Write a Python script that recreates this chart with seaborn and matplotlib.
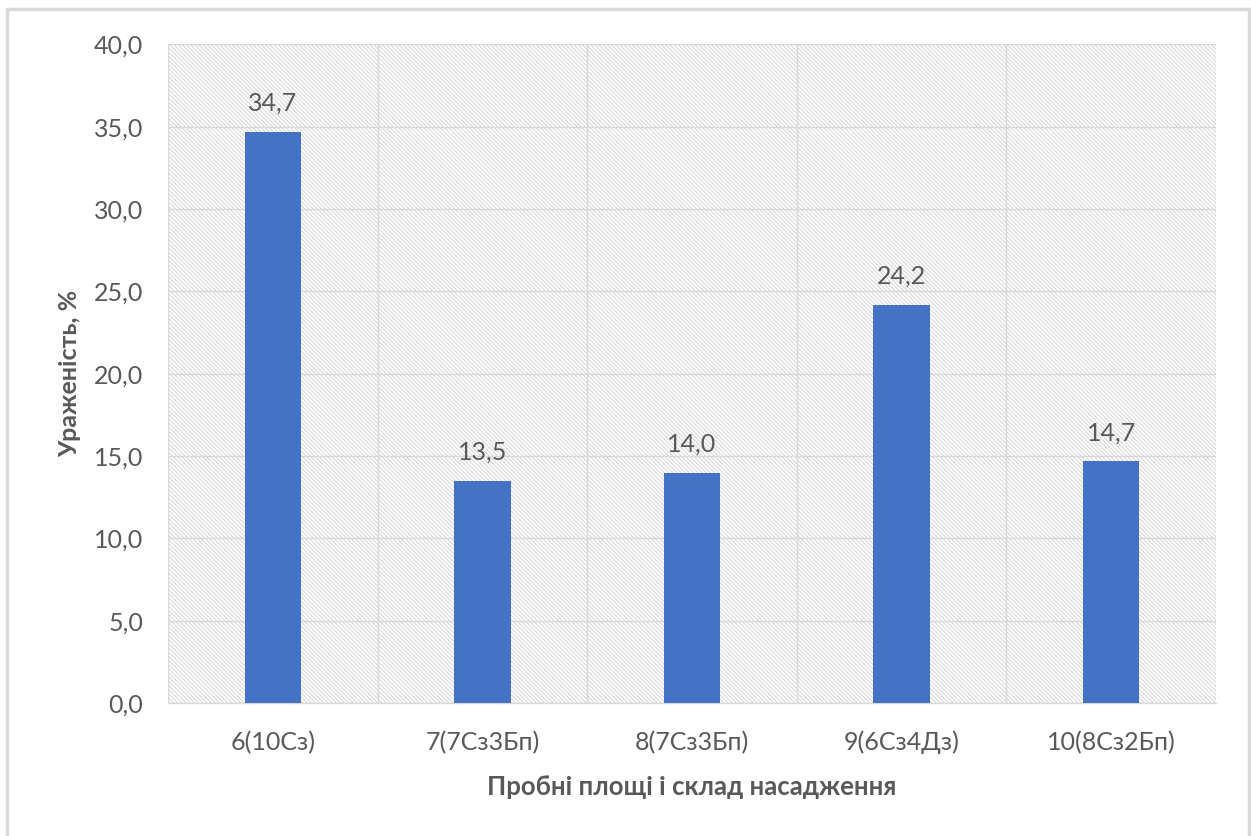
import matplotlib
matplotlib.use('Agg')
import matplotlib.pyplot as plt
import seaborn as sns
from matplotlib.ticker import FuncFormatter, FixedLocator
from matplotlib.patches import Rectangle

# дані
categories = ['6(10Сз)', '7(7Сз3Бп)', '8(7Сз3Бп)', '9(6Сз4Дз)', '10(8Сз2Бп)']
values = [34.7, 13.5, 14.0, 24.2, 14.7]
y_ticks = [0, 5, 10, 15, 20, 25, 30, 35, 40]

sns.set_style('white')
plt.rcParams['font.family'] = ['Lato', 'DejaVu Sans']
plt.rcParams['hatch.color'] = '#DCDCDC'
plt.rcParams['hatch.linewidth'] = 0.8

txt = '#595959'
grid_c = '#D9D9D9'

fig = plt.figure(figsize=(12.51, 8.36), dpi=100)
ax = fig.add_axes([0.1343, 0.159, 0.8377, 0.788])

# фон з штрихуванням
ax.patch.set_facecolor('white')
ax.patch.set_hatch('\\\\\\\\\\\\\\\\')
ax.patch.set_edgecolor(grid_c)

sns.barplot(x=categories, y=values, color='#4472C4', width=0.27, ax=ax,
            saturation=1, zorder=3, linewidth=0)

ax.set_ylim(0, 40)
ax.set_xlim(-0.5, len(categories) - 0.5)
ax.set_yticks(y_ticks)
ax.yaxis.set_major_formatter(FuncFormatter(lambda v, p: f'{v:.1f}'.replace('.', ',')))
ax.xaxis.set_minor_locator(FixedLocator([i - 0.5 for i in range(len(categories) + 1)]))

ax.grid(axis='y', which='major', color=grid_c, linewidth=1, zorder=1)
ax.grid(axis='x', which='minor', color=grid_c, linewidth=1, zorder=1)
ax.set_axisbelow(True)

for s in ['top', 'right', 'left']:
    ax.spines[s].set_visible(False)
ax.spines['bottom'].set_color(grid_c)
ax.spines['bottom'].set_linewidth(1)

ax.tick_params(axis='both', which='both', length=0, labelsize=18, labelcolor=txt)
ax.tick_params(axis='y', pad=18)
ax.tick_params(axis='x', pad=20)

ax.bar_label(ax.containers[0], labels=[f'{v:.1f}'.replace('.', ',') for v in values],
             padding=12, fontsize=18, color=txt)

ax.set_ylabel('Ураженість, %', fontsize=18, fontweight='bold', color=txt, labelpad=9)
ax.set_xlabel('Пробні площі і склад насадження', fontsize=18.5, fontweight='bold',
              color=txt, labelpad=15)

# рамка навколо діаграми
fig.patches.append(Rectangle((7 / 1251, -0.01), 1242 / 1251, 1 - 9 / 836 + 0.01,
                             transform=fig.transFigure, fill=False,
                             edgecolor='#D9D9D9', linewidth=2.5))

fig.savefig('out.png', dpi=100)
